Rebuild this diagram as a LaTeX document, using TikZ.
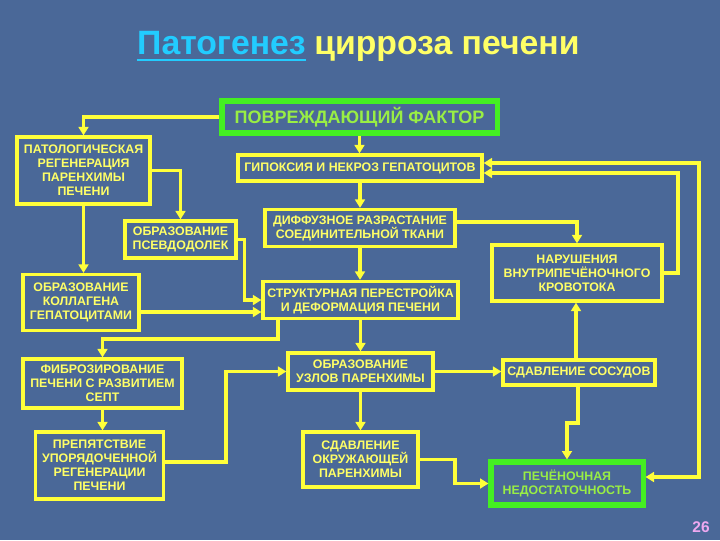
\documentclass[tikz,border=0pt]{standalone}
\usepackage{fontspec}
\setmainfont{Liberation Sans}
\usetikzlibrary{arrows.meta}
\definecolor{bg}{HTML}{4A6898}
\definecolor{ylw}{HTML}{FFFF3A}
\definecolor{ytxt}{HTML}{FFFF66}
\definecolor{grn}{HTML}{44EE22}
\definecolor{gtxt}{HTML}{99EE44}
\definecolor{cyn}{HTML}{22CCFF}
\definecolor{pnk}{HTML}{EEA8F0}
\tikzset{
  box/.style={draw=ylw, line width=2.3pt, align=center, text=ytxt, inner sep=0pt,
    font=\bfseries\fontsize{8.8}{10}\selectfont},
  gbox/.style={box, draw=grn, line width=3.6pt},
  conn/.style={draw=ylw, line width=2.3pt, -{Triangle[length=6pt,width=7pt]}},
  dconn/.style={draw=ylw, line width=2.3pt, {Triangle[length=6pt,width=7pt]}-{Triangle[length=6pt,width=7pt]}},
}
\begin{document}
\begin{tikzpicture}[x=0.025cm,y=-0.025cm]
\fill[bg] (0,0) rectangle (720,540);
\useasboundingbox (0,0) rectangle (720,540);
% title
\node[anchor=base east, inner sep=0pt, font=\bfseries\fontsize{24}{28}\selectfont, text=cyn] (t1) at (306,54) {Патогенез};
\node[anchor=base west, inner sep=0pt, font=\bfseries\fontsize{24}{28}\selectfont, text=ytxt] (t2) at (314,54) {цирроза печени};
\draw[cyn, line width=1.5pt] ([yshift=-4.5pt]t1.base west) -- ([yshift=-4.5pt]t1.base east);
% boxes
\node[gbox, text=gtxt, font=\bfseries\fontsize{12.8}{14}\selectfont, minimum width=6.875cm, minimum height=0.8cm] (fak) at (359.5,117) {ПОВРЕЖДАЮЩИЙ ФАКТОР};
\node[box, minimum width=3.325cm, minimum height=1.675cm] (pat) at (83.5,170.5) {ПАТОЛОГИЧЕСКАЯ\\РЕГЕНЕРАЦИЯ\\ПАРЕНХИМЫ\\ПЕЧЕНИ};
\node[box, minimum width=6.1cm, minimum height=0.65cm] (gip) at (360,168) {ГИПОКСИЯ И НЕКРОЗ ГЕПАТОЦИТОВ};
\node[box, minimum width=2.775cm, minimum height=0.925cm] (psev) at (180.5,239.5) {ОБРАЗОВАНИЕ\\ПСЕВДОДОЛЕК};
\node[box, minimum width=4.75cm, minimum height=0.925cm] (diff) at (360,228) {ДИФФУЗНОЕ РАЗРАСТАНИЕ\\СОЕДИНИТЕЛЬНОЙ ТКАНИ};
\node[box, minimum width=4.25cm, minimum height=1.4cm] (nar) at (577,273) {НАРУШЕНИЯ\\ВНУТРИПЕЧЁНОЧНОГО\\КРОВОТОКА};
\node[box, minimum width=2.9cm, minimum height=1.4cm] (kol) at (81,302.5) {ОБРАЗОВАНИЕ\\КОЛЛАГЕНА\\ГЕПАТОЦИТАМИ};
\node[box, minimum width=4.875cm, minimum height=0.925cm] (str) at (360.5,300) {СТРУКТУРНАЯ ПЕРЕСТРОЙКА\\И ДЕФОРМАЦИЯ ПЕЧЕНИ};
\node[box, minimum width=3.975cm, minimum height=1.225cm] (fib) at (102.5,383.5) {ФИБРОЗИРОВАНИЕ\\ПЕЧЕНИ С РАЗВИТИЕМ\\СЕПТ};
\node[box, minimum width=3.625cm, minimum height=0.925cm] (uzl) at (360.5,371.5) {ОБРАЗОВАНИЕ\\УЗЛОВ ПАРЕНХИМЫ};
\node[box, minimum width=3.8cm, minimum height=0.625cm] (sos) at (579,372.5) {СДАВЛЕНИЕ СОСУДОВ};
\node[box, minimum width=3.2cm, minimum height=1.675cm] (prep) at (99.5,465.5) {ПРЕПЯТСТВИЕ\\УПОРЯДОЧЕННОЙ\\РЕГЕНЕРАЦИИ\\ПЕЧЕНИ};
\node[box, minimum width=2.875cm, minimum height=1.375cm] (okr) at (360.5,459.5) {СДАВЛЕНИЕ\\ОКРУЖАЮЩЕЙ\\ПАРЕНХИМЫ};
\node[gbox, text=gtxt, minimum width=3.8cm, minimum height=1.075cm] (pech) at (567,483.5) {ПЕЧЁНОЧНАЯ\\НЕДОСТАТОЧНОСТЬ};
\node[text=pnk, font=\bfseries\fontsize{11}{13}\selectfont, inner sep=0pt] (pg) at (701,527) {26};
% helper coordinates
\coordinate (c312) at (0,312);
\coordinate (c222) at (0,222);
\coordinate (j1) at (678,173);
\coordinate (k1) at (699,163);
\coordinate (k2) at (699,477);
\coordinate (x576) at (576,0);
\coordinate (n1) at (278,339);
\coordinate (p1) at (226,462);
\coordinate (s1) at (455,459.5);
\coordinate (t1c) at (578,423);
% connectors
\draw[conn] (fak.west) -| (pat.north);
\draw[conn] (fak.south) -- (fak.south |- gip.north);
\draw[conn] (gip.south) -- (gip.south |- diff.north);
\draw[conn] (pat.east) -| (psev.north);
\draw[conn] (pat.south) -- (pat.south |- kol.north);
\draw[conn] (psev.east) -- ++(7,0) |- (str.west);
\draw[conn] (kol.east |- c312) -- (str.west |- c312);
\draw[conn] (diff.east |- c222) -| (nar.north);
\draw[conn] (diff.south) -- (diff.south |- str.north);
\draw[conn] (nar.east) -| (j1) -- (gip.east |- j1);
\draw[dconn] (gip.east |- k1) -- (k1) -- (k2) -- (pech.east |- k2);
\draw[conn] (sos.north -| x576) -- (nar.south -| x576);
\draw[conn] (str.south) -- (str.south |- uzl.north);
\draw[conn] (str.south -| n1) -- (n1) -| (fib.north);
\draw[conn] (fib.south) -- (fib.south |- prep.north);
\draw[conn] (prep.east |- p1) -- (p1) |- (uzl.west);
\draw[conn] (uzl.east) -- (uzl.east -| sos.west);
\draw[conn] (uzl.south) -- (uzl.south |- okr.north);
\draw[conn] (okr.east) -- (s1) |- (pech.west);
\draw[conn] (sos.south -| t1c) -- (t1c) -| (pech.north);
\end{tikzpicture}
\end{document}
